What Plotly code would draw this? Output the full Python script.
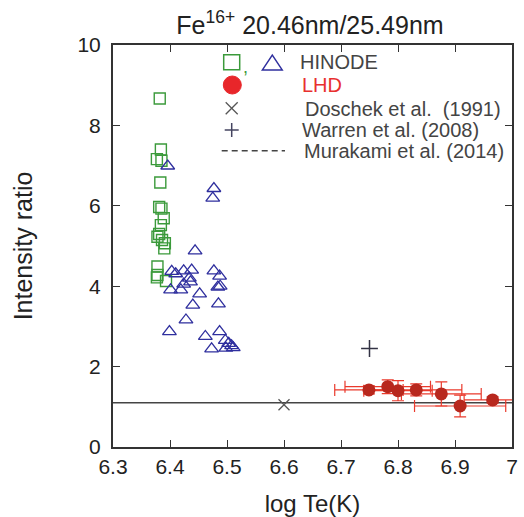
import plotly.graph_objects as go

# ---------------- data ----------------
hinode_sq_te = [6.382, 6.384, 6.377, 6.385, 6.383, 6.381, 6.385, 6.389, 6.384, 6.381,
                6.378, 6.386, 6.391, 6.390, 6.378, 6.378, 6.377, 6.393]
hinode_sq_ratio = [8.67, 7.40, 7.16, 7.12, 6.58, 5.97, 5.93, 5.69, 5.52, 5.30,
                   5.23, 5.15, 5.07, 4.94, 4.49, 4.28, 4.22, 4.13]

hinode_tri_te = [6.396, 6.477, 6.475, 6.444, 6.403, 6.410, 6.424, 6.438, 6.477, 6.487,
                 6.434, 6.436, 6.424, 6.401, 6.419, 6.484, 6.488, 6.452, 6.440, 6.485,
                 6.428, 6.399, 6.462, 6.487, 6.473, 6.497, 6.503, 6.508, 6.498, 6.511]
hinode_tri_ratio = [6.99, 6.43, 6.19, 4.88, 4.37, 4.31, 4.38, 4.40, 4.38, 4.25,
                    4.20, 4.11, 4.05, 3.91, 3.91, 3.98, 4.00, 3.81, 3.53, 3.56,
                    3.16, 2.87, 2.75, 2.87, 2.44, 2.65, 2.58, 2.52, 2.46, 2.47]

lhd_te = [6.749, 6.782, 6.800, 6.832, 6.876, 6.909, 6.966]
lhd_ratio = [1.42, 1.50, 1.40, 1.42, 1.32, 1.02, 1.17]
lhd_te_err = [0.060, 0.075, 0.060, 0.080, 0.070, 0.080, 0.050]
lhd_ratio_err = [0.10, 0.17, 0.25, 0.15, 0.30, 0.27, 0.08]

doschek_te = [6.60]
doschek_ratio = [1.05]
warren_te = [6.75]
warren_ratio = [2.45]
murakami_te = [6.3, 7.0]
murakami_ratio = [1.1, 1.1]

x_ticks = [6.3, 6.4, 6.5, 6.6, 6.7, 6.8, 6.9, 7.0]
x_tick_text = ["6.3", "6.4", "6.5", "6.6", "6.7", "6.8", "6.9", "7"]
y_ticks = [0, 2, 4, 6, 8, 10]

GREEN = "#3b9a3b"
BLUE = "#2f2f9e"
RED_DARK = "#b8281e"
RED = "#ea3a2c"
FONT = "Liberation Sans, Arial, sans-serif"

fig = go.Figure()

fig.add_trace(go.Scatter(x=murakami_te, y=murakami_ratio, mode="lines",
                         line=dict(color="#444444", width=1.6), showlegend=False))
fig.add_trace(go.Scatter(x=hinode_sq_te, y=hinode_sq_ratio, mode="markers",
                         marker=dict(symbol="square-open", size=11, color=GREEN,
                                     line=dict(width=1.4)), showlegend=False))
fig.add_trace(go.Scatter(x=hinode_tri_te, y=hinode_tri_ratio, mode="markers",
                         marker=dict(symbol="triangle-up-open", size=12, color=BLUE,
                                     line=dict(width=1.3)), showlegend=False))
fig.add_trace(go.Scatter(x=lhd_te, y=lhd_ratio, mode="markers",
                         error_x=dict(type="data", array=lhd_te_err, color=RED,
                                      thickness=1.2, width=6),
                         error_y=dict(type="data", array=lhd_ratio_err, color=RED,
                                      thickness=1.2, width=6),
                         marker=dict(symbol="circle", size=13, color=RED_DARK),
                         showlegend=False))
fig.add_trace(go.Scatter(x=doschek_te, y=doschek_ratio, mode="markers",
                         marker=dict(symbol="x-thin-open", size=11, color="#555555",
                                     line=dict(width=1.3)), showlegend=False))
fig.add_trace(go.Scatter(x=warren_te, y=warren_ratio, mode="markers",
                         marker=dict(symbol="cross-thin-open", size=12, color="#333344",
                                     line=dict(width=1.5)), showlegend=False))

# ---------------- hand-made legend (paper coords) ----------------
L, R, T, B = 113, 512, 45, 447
def px(xp):
    return (xp - L) / (R - L)
def py(yp):
    return (B - yp) / (B - T)

shapes = []
annotations = []
shapes.append(dict(type="rect", xref="paper", yref="paper", xsizemode="pixel", ysizemode="pixel",
                   xanchor=px(231.7), yanchor=py(62.3), x0=-8, x1=8, y0=-7.5, y1=7.5,
                   line=dict(color=GREEN, width=1.5)))
shapes.append(dict(type="path", xref="paper", yref="paper", xsizemode="pixel", ysizemode="pixel",
                   xanchor=px(272.3), yanchor=py(63), path="M -10 -7 L 10 -7 L 0 8 Z",
                   line=dict(color=BLUE, width=1.4)))
annotations.append(dict(xref="paper", yref="paper", x=px(245), y=py(67), text=",",
                        xanchor="center", yanchor="middle",
                        showarrow=False, font=dict(size=18, color=GREEN, family=FONT)))
shapes.append(dict(type="circle", xref="paper", yref="paper", xsizemode="pixel", ysizemode="pixel",
                   xanchor=px(232.3), yanchor=py(85), x0=-9, x1=9, y0=-9, y1=9,
                   fillcolor="#e8262a", line=dict(color="#e8262a", width=1)))
for (a, b) in [((-6, -6), (6, 6)), ((-6, 6), (6, -6))]:
    shapes.append(dict(type="line", xref="paper", yref="paper", xsizemode="pixel", ysizemode="pixel",
                       xanchor=px(231.7), yanchor=py(108.3), x0=a[0], y0=a[1], x1=b[0], y1=b[1],
                       line=dict(color="#555555", width=1.3)))
for (a, b) in [((-7, 0), (7, 0)), ((0, -7), (0, 7))]:
    shapes.append(dict(type="line", xref="paper", yref="paper", xsizemode="pixel", ysizemode="pixel",
                       xanchor=px(231.7), yanchor=py(130), x0=a[0], y0=a[1], x1=b[0], y1=b[1],
                       line=dict(color="#444460", width=1.5)))
shapes.append(dict(type="line", xref="paper", yref="paper", x0=px(221.7), x1=px(285),
                   y0=py(150.7), y1=py(150.7), line=dict(color="#444444", width=1.5, dash="6px,4px")))

leg_texts = [("HINODE", 298, 62, "#444444"),
             ("LHD", 300, 85, "#e8302f"),
             ("Doschek et al.  (1991)", 303, 108.5, "#444444"),
             ("Warren et al. (2008)", 300, 130, "#444444"),
             ("Murakami et al. (2014)", 301.5, 151, "#444444")]
for t, x0, y0, c in leg_texts:
    annotations.append(dict(xref="paper", yref="paper", x=px(x0), y=py(y0), text=t,
                            xanchor="left", yanchor="middle", showarrow=False,
                            font=dict(size=20, color=c, family=FONT)))

axis_common = dict(showline=True, linecolor="#333333", linewidth=2, mirror="ticks",
                   ticks="inside", ticklen=7, tickwidth=1.3, tickcolor="#333333",
                   showgrid=False, zeroline=False, automargin=False,
                   tickfont=dict(size=21, color="#222222", family=FONT))

fig.update_layout(
    width=524, height=517,
    margin=dict(l=L, r=524 - R, t=T, b=517 - B, pad=0, autoexpand=False),
    plot_bgcolor="white", paper_bgcolor="white",
    title=dict(text="Fe<sup>16+</sup> 20.46nm/25.49nm", x=px(310), xref="paper",
               xanchor="center", y=1 - 25 / 517, yref="container", yanchor="middle",
               font=dict(size=25, color="#222222", family=FONT)),
    xaxis=dict(range=[6.3, 7.0], tickvals=x_ticks, ticktext=x_tick_text,
               ticklabelstandoff=0,
               title=dict(text="log Te(K)", standoff=36,
                          font=dict(size=24, color="#222222", family=FONT)),
               **axis_common),
    yaxis=dict(range=[0, 10], tickvals=y_ticks, ticklabelstandoff=6,
               title=dict(text="Intensity ratio", standoff=38,
                          font=dict(size=25, color="#222222", family=FONT)),
               **axis_common),
    shapes=shapes, annotations=annotations,
)

fig.write_html("out.html")
